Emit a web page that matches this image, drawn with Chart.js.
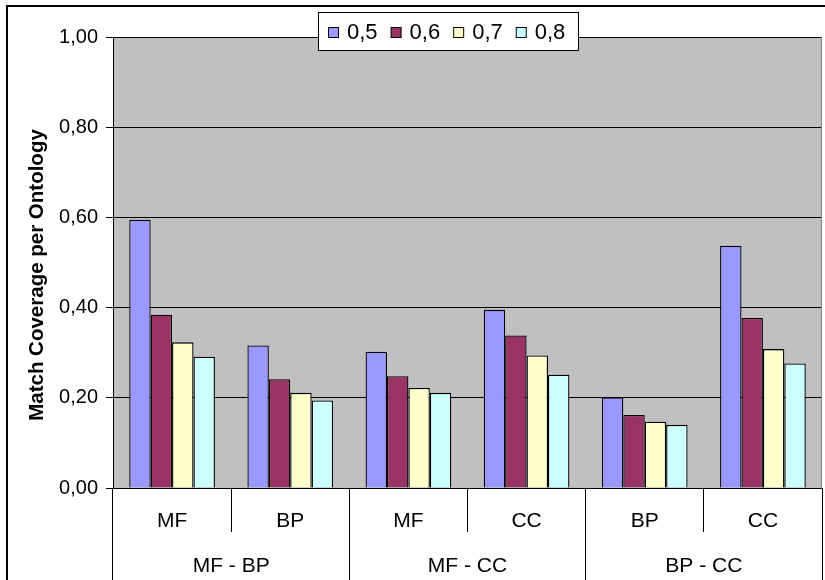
<!DOCTYPE html>
<html>
<head>
<meta charset="utf-8">
<script src="https://cdn.jsdelivr.net/npm/chart.js@4.4.1/dist/chart.umd.min.js"></script>
<style>
  html, body { margin: 0; padding: 0; background: #fff; }
  #wrap { width: 825px; height: 580px; }
</style>
</head>
<body>
<div id="wrap"><canvas id="chart" width="825" height="580"></canvas></div>
<script>
// data
const categories = ["MF", "BP", "MF", "CC", "BP", "CC"];
const groups = ["MF - BP", "MF - CC", "BP - CC"];
const seriesNames = ["0,5", "0,6", "0,7", "0,8"];
const s05 = [0.595, 0.316, 0.302, 0.395, 0.201, 0.537];
const s06 = [0.384, 0.241, 0.248, 0.338, 0.162, 0.377];
const s07 = [0.323, 0.211, 0.222, 0.294, 0.147, 0.308];
const s08 = [0.291, 0.194, 0.211, 0.251, 0.140, 0.276];
const yTicks = [0, 0.2, 0.4, 0.6, 0.8, 1.0];
const yTitle = "Match Coverage per Ontology";

const colors = ["#9999FF", "#993366", "#FFFFCC", "#CCFFFF"];
const FONT = "'Liberation Sans', Arial, sans-serif";
Chart.defaults.font.family = FONT;
Chart.defaults.color = "#000";

// white page, outer frame and grey plot area
const background = {
  id: "background",
  beforeDraw(chart) {
    const { ctx, chartArea: a } = chart;
    ctx.save();
    ctx.fillStyle = "#fff";
    ctx.fillRect(0, 0, chart.width, chart.height);
    ctx.strokeStyle = "#000";
    ctx.lineWidth = 2;
    ctx.strokeRect(7, 6, chart.width + 20, chart.height + 20);
    ctx.fillStyle = "#C0C0C0";
    ctx.fillRect(a.left, a.top, a.right - a.left, a.bottom - a.top);
    ctx.restore();
  },
  afterDatasetsDraw(chart) {
    const { ctx, chartArea: a } = chart;
    ctx.save();
    ctx.strokeStyle = "#808080";
    ctx.lineWidth = 1;
    ctx.beginPath();
    ctx.moveTo(Math.round(a.right) - 0.5, a.top);
    ctx.lineTo(Math.round(a.right) - 0.5, a.bottom);
    ctx.stroke();
    ctx.restore();
  }
};

// axis title, centred on the whole chart height like Excel does
const sideTitle = {
  id: "sideTitle",
  afterDraw(chart) {
    const ctx = chart.ctx;
    ctx.save();
    ctx.translate(37, 275);
    ctx.rotate(-Math.PI / 2);
    ctx.font = "bold 20.5px " + FONT;
    ctx.fillStyle = "#000";
    ctx.textAlign = "center";
    ctx.textBaseline = "middle";
    ctx.fillText(yTitle, 0, 0);
    ctx.restore();
  }
};

// boxed legend sitting over the top of the plot area
const boxLegend = {
  id: "boxLegend",
  afterDraw(chart) {
    const ctx = chart.ctx;
    ctx.save();
    ctx.fillStyle = "#fff";
    ctx.strokeStyle = "#000";
    ctx.lineWidth = 1;
    ctx.fillRect(318.5, 12.5, 260, 38);
    ctx.strokeRect(318.5, 12.5, 260, 38);
    ctx.font = "22px " + FONT;
    ctx.textBaseline = "middle";
    let x = 328;
    chart.data.datasets.forEach(ds => {
      ctx.fillStyle = ds.backgroundColor;
      ctx.fillRect(x + 0.5, 27.5, 10, 10);
      ctx.strokeRect(x + 0.5, 27.5, 10, 10);
      ctx.fillStyle = "#000";
      ctx.fillText(ds.label, x + 19, 33);
      x += 19 + ctx.measureText(ds.label).width + 13;
    });
    ctx.restore();
  }
};

const allSeries = [s05, s06, s07, s08];

new Chart(document.getElementById("chart"), {
  type: "bar",
  data: {
    labels: categories,
    datasets: allSeries.map((vals, i) => ({
      label: seriesNames[i],
      data: vals,
      backgroundColor: colors[i],
      borderColor: "#000",
      borderWidth: 1.3,
      borderSkipped: "bottom",
      categoryPercentage: 0.725,
      barPercentage: 1
    }))
  },
  options: {
    responsive: false,
    devicePixelRatio: 1,
    animation: false,
    layout: { padding: { left: 9, top: 37, right: 3, bottom: 0 } },
    plugins: {
      legend: { display: false },
      tooltip: { enabled: false }
    },
    scales: {
      y: {
        min: 0,
        max: 1,
        afterFit(scale) { scale.width = 104; },
        afterBuildTicks(scale) { scale.ticks = yTicks.map(v => ({ value: v })); },
        ticks: {
          padding: 8,
          font: { size: 20 },
          callback: v => v.toFixed(2).replace(".", ",")
        },
        grid: { color: "#000", lineWidth: 1, tickLength: 7 },
        border: { color: "#000", width: 1 }
      },
      x: {
        afterFit(scale) { scale.height = 44; },
        ticks: { padding: -23, font: { size: 21 }, maxRotation: 0, autoSkip: false },
        grid: { offset: true, drawOnChartArea: false, color: "#000", tickLength: 44 },
        border: { color: "#000", width: 1 }
      },
      x2: {
        type: "category",
        labels: groups,
        offset: true,
        position: "bottom",
        afterFit(scale) { scale.height = 48; },
        ticks: { padding: -26, font: { size: 21 }, maxRotation: 0, autoSkip: false },
        grid: { offset: true, drawOnChartArea: false, color: "#000", tickLength: 48 },
        border: { display: false }
      }
    }
  },
  plugins: [background, sideTitle, boxLegend]
});
</script>
</body>
</html>
